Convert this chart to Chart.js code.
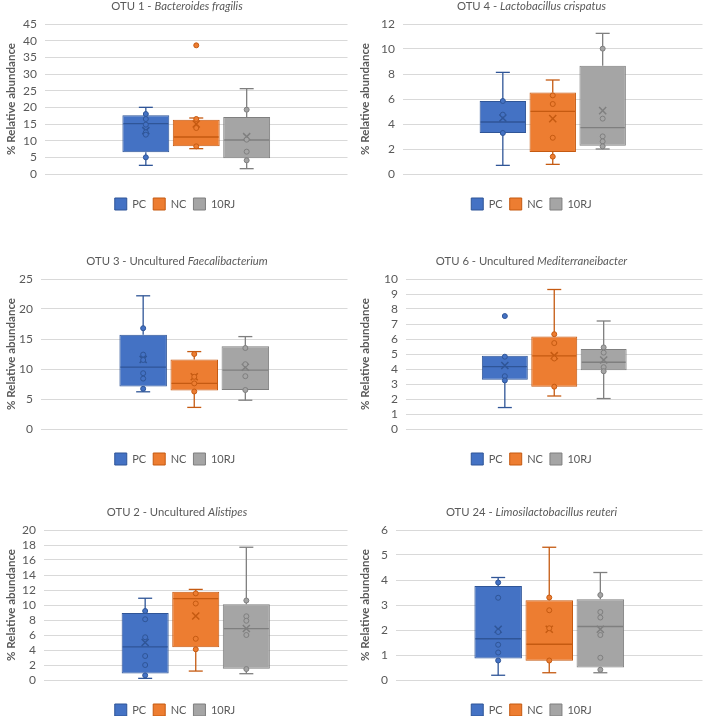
<!DOCTYPE html>
<html lang="en">
<head>
<meta charset="UTF-8">
<title>OTU relative abundance</title>
<script src="https://cdn.jsdelivr.net/npm/chart.js"></script>
<style>
  body { margin: 0; background: #fff; }
  #wrap { position: relative; width: 709px; height: 716px; overflow: hidden; background: #fff; }
  #wrap canvas { position: absolute; }
</style>
</head>
<body>
<div id="wrap"></div>
<script>
const groups = ['PC', 'NC', '10RJ'];
const titleText = ['OTU 1 - ', 'OTU 4 - ', 'OTU 3 - Uncultured ', 'OTU 6 - Uncultured ', 'OTU 2 - Uncultured ', 'OTU 24 - '];
const titleItalic = ['Bacteroides fragilis', 'Lactobacillus crispatus', 'Faecalibacterium', 'Mediterraneibacter', 'Alistipes', 'Limosilactobacillus reuteri'];
const yMax = [45, 12, 25, 10, 20, 6];
const yStep = [5, 2, 5, 1, 2, 1];

// one row per panel, one value per group (PC, NC, 10RJ)
const whiskerLow = [[2.6, 7.6, 1.6], [0.69, 0.77, 2.0], [6.2, 3.6, 4.8], [1.43, 2.2, 2.03], [0.22, 1.19, 0.84], [0.19, 0.29, 0.29]];
const q1Values = [[6.5, 8.3, 4.7], [3.28, 1.76, 2.27], [7.1, 6.4, 6.5], [3.28, 2.82, 3.92], [0.88, 4.38, 1.5], [0.86, 0.77, 0.5]];
const medianValues = [[15.1, 11.1, 10.2], [4.16, 5.01, 3.71], [10.3, 7.6, 9.8], [4.16, 4.87, 4.45], [4.42, 10.84, 6.86], [1.65, 1.43, 2.14]];
const q3Values = [[17.6, 16.3, 17.1], [5.84, 6.53, 8.67], [15.7, 11.6, 13.8], [4.89, 6.17, 5.33], [8.94, 11.77, 10.1], [3.76, 3.19, 3.23]];
const whiskerHigh = [[20.0, 16.8, 25.6], [8.13, 7.52, 11.25], [22.2, 12.9, 15.4], [4.89, 9.3, 7.2], [10.9, 12.08, 17.7], [4.1, 5.31, 4.3]];
const meanValues = [[13.0, 15.0, 11.2], [4.48, 4.43, 5.07], [11.6, 8.7, 10.3], [4.23, 4.89, 4.6], [5.0, 8.54, 6.86], [2.03, 2.03, 2.03]];
const pointValues = [
  [[18.0, 16.5, 14.8, 12.5, 11.8, 5.0], [16.5, 13.8, 8.3, 38.6], [19.3, 10.3, 6.7, 4.1]],
  [[5.84, 4.75, 3.28], [6.29, 5.6, 2.9, 1.39], [10.03, 4.43, 3.01, 2.61, 2.21]],
  [[16.8, 12.4, 11.5, 9.3, 8.4, 6.7], [12.5, 8.7, 7.6, 6.25], [13.5, 10.8, 8.8, 6.5]],
  [[7.53, 4.82, 3.52, 3.24], [6.32, 5.73, 4.7, 2.82], [5.44, 5.09, 4.12, 3.85]],
  [[9.2, 8.1, 5.7, 3.2, 2.0, 0.62], [11.55, 10.2, 5.5, 4.1], [10.6, 8.5, 7.9, 6.0, 1.46]],
  [[3.9, 3.29, 1.92, 1.41, 1.1, 0.78], [3.3, 2.79, 2.07, 0.78], [3.4, 2.72, 2.5, 1.8, 0.89, 0.41]]
];

const fills = ['#4472C4', '#ED7D31', '#A5A5A5'];
const strokes = ['#2F5597', '#C55A11', '#7F7F7F'];
const boxX = [2, 3, 4];

const panelLeft = [0, 354, 0, 354, 0, 354];
const panelTop = [-1, -1, 254, 254, 505, 505];
const panelWidth = [354, 355, 354, 355, 354, 355];
const axisWidth = [45, 49, 41, 52, 44, 42];
const FONT = 'Lato';

// whiskers + median line, drawn right after each box
const boxParts = {
  id: 'boxParts',
  afterDatasetDraw(chart, args, opts) {
    const ds = chart.data.datasets[args.index];
    if (ds.type !== 'bar') return;
    const p = opts.panel, g = ds.group;
    const bar = args.meta.data[0];
    const y = chart.scales.y;
    const ctx = chart.ctx;
    const half = bar.width / 2 - 1, cap = 7;
    const seg = (x1, y1, x2, y2) => { ctx.beginPath(); ctx.moveTo(x1, y1); ctx.lineTo(x2, y2); ctx.stroke(); };
    ctx.save();
    ctx.strokeStyle = strokes[g];
    ctx.lineWidth = 1.3;
    const ym = y.getPixelForValue(medianValues[p][g]);
    seg(bar.x - half, ym, bar.x + half, ym);
    const yq1 = y.getPixelForValue(q1Values[p][g]);
    const yq3 = y.getPixelForValue(q3Values[p][g]);
    const ylo = y.getPixelForValue(whiskerLow[p][g]);
    const yhi = y.getPixelForValue(whiskerHigh[p][g]);
    if (whiskerHigh[p][g] > q3Values[p][g]) { seg(bar.x, yq3, bar.x, yhi); seg(bar.x - cap, yhi, bar.x + cap, yhi); }
    if (whiskerLow[p][g] < q1Values[p][g]) { seg(bar.x, yq1, bar.x, ylo); seg(bar.x - cap, ylo, bar.x + cap, ylo); }
    ctx.restore();
  }
};

// title with italic species name
const mixedTitle = {
  id: 'mixedTitle',
  afterDraw(chart, args, opts) {
    const p = opts.panel;
    const ctx = chart.ctx;
    const f1 = '11.3px ' + FONT, f2 = 'italic 11.3px ' + FONT;
    ctx.save();
    ctx.font = f1; const w1 = ctx.measureText(titleText[p]).width;
    ctx.font = f2; const w2 = ctx.measureText(titleItalic[p]).width;
    const x = (chart.width - w1 - w2) / 2;
    ctx.fillStyle = '#595959';
    ctx.textBaseline = 'middle';
    ctx.font = f1; ctx.fillText(titleText[p], x, 7);
    ctx.font = f2; ctx.fillText(titleItalic[p], x + w1, 7);
    ctx.restore();
  }
};

const wrap = document.getElementById('wrap');

for (let p = 0; p < 6; p++) {
  const cv = document.createElement('canvas');
  cv.width = panelWidth[p];
  cv.height = 221;
  cv.style.left = panelLeft[p] + 'px';
  cv.style.top = panelTop[p] + 'px';
  wrap.appendChild(cv);

  const datasets = [];
  groups.forEach((name, g) => {
    datasets.push({
      type: 'scatter', label: name + ' points', group: g,
      data: pointValues[p][g].map(v => ({ x: boxX[g], y: v })),
      pointRadius: 2.5, pointBorderWidth: 1,
      backgroundColor: fills[g], borderColor: strokes[g]
    });
  });
  groups.forEach((name, g) => {
    datasets.push({
      type: 'scatter', label: name + ' mean', group: g,
      data: [{ x: boxX[g], y: meanValues[p][g] }],
      pointStyle: 'crossRot', pointRadius: 5, pointBorderWidth: 1.5,
      borderColor: strokes[g], backgroundColor: strokes[g]
    });
  });
  groups.forEach((name, g) => {
    datasets.push({
      type: 'bar', label: name, group: g,
      data: [{ x: boxX[g], y: [q1Values[p][g], q3Values[p][g]] }],
      backgroundColor: fills[g], borderColor: strokes[g], borderWidth: 1,
      borderSkipped: false, grouped: false,
      barPercentage: 0.93, categoryPercentage: 1
    });
  });

  new Chart(cv, {
    type: 'bar',
    data: { datasets },
    options: {
      responsive: false,
      animation: false,
      layout: { padding: { top: 25, left: 0, right: p % 2 === 0 ? 4 : 0, bottom: 0 } },
      scales: {
        x: {
          type: 'linear', min: 0, max: 6, offset: false,
          ticks: { display: false, stepSize: 1 },
          grid: { display: false, drawTicks: false },
          border: { display: false },
          afterFit: s => { s.height = 17; }
        },
        y: {
          min: 0, max: yMax[p],
          ticks: { stepSize: yStep[p], autoSkip: false, color: '#595959', padding: 8, font: { family: FONT, size: 12 } },
          grid: { color: '#D9D9D9', drawTicks: false },
          border: { display: false },
          title: { display: true, text: '% Relative abundance', color: '#595959', padding: { top: 4, bottom: 0 }, font: { family: FONT, size: 11.5, weight: 'bold' } },
          afterFit: s => { s.width = axisWidth[p]; }
        }
      },
      plugins: {
        title: { display: false },
        tooltip: { enabled: false },
        legend: {
          position: 'bottom',
          labels: {
            boxWidth: 12, boxHeight: 12, padding: 7, color: '#595959',
            font: { family: FONT, size: 11 },
            filter: (item, data) => data.datasets[item.datasetIndex].type === 'bar'
          }
        },
        boxParts: { panel: p },
        mixedTitle: { panel: p }
      }
    },
    plugins: [boxParts, mixedTitle]
  });
}
</script>
</body>
</html>
